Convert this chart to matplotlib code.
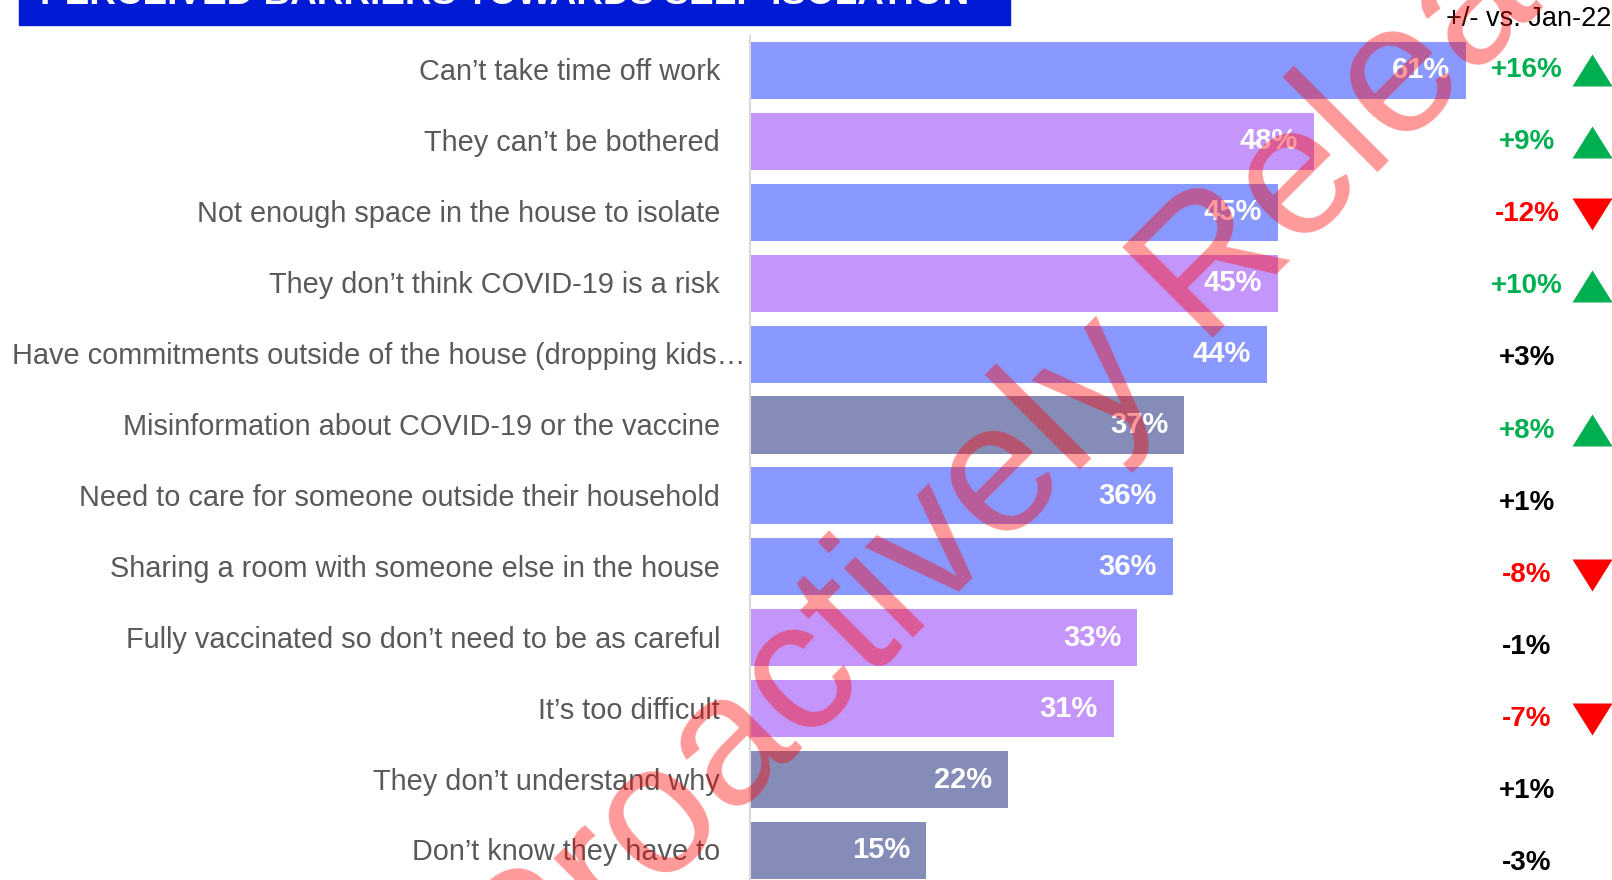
"""Perceived barriers towards self-isolation, with change vs. Jan-22."""
import matplotlib.pyplot as plt
from matplotlib.patches import Rectangle
import numpy as np

plt.rcParams["font.family"] = ["Liberation Sans", "DejaVu Sans"]

BARRIERS = [
    "Can\u2019t take time off work",
    "They can\u2019t be bothered",
    "Not enough space in the house to isolate",
    "They don\u2019t think COVID-19 is a risk",
    "Have commitments outside of the house (dropping kids\u2026",
    "Misinformation about COVID-19 or the vaccine",
    "Need to care for someone outside their household",
    "Sharing a room with someone else in the house",
    "Fully vaccinated so don\u2019t need to be as careful",
    "It\u2019s too difficult",
    "They don\u2019t understand why",
    "Don\u2019t know they have to",
]
SHARE = [61, 48, 45, 45, 44, 37, 36, 36, 33, 31, 22, 15]
CHANGE = [16, 9, -12, 10, 3, 8, 1, -8, -1, -7, 1, -3]
SIGNIFICANT = [True, True, True, True, False, True, False, True, False, True, False, False]
GROUP = ["practical", "attitude", "practical", "attitude", "practical", "knowledge",
         "practical", "practical", "attitude", "attitude", "knowledge", "knowledge"]

TITLE = "PERCEIVED BARRIERS TOWARDS SELF-ISOLATION"
CHANGE_HEADER = "+/- vs. Jan-22"
WATERMARK = "Proactively Released"

GROUP_COLOR = {"practical": "#8A99FF", "attitude": "#C496FC", "knowledge": "#868CB8"}
UP_COLOR = "#00B050"
DOWN_COLOR = "#FF0000"
LABEL_GREY = "#595959"

W, H = 1612, 880


def fx(px):
    return px / W


def fy(py):
    return 1 - py / H


fig = plt.figure(figsize=(W / 100, H / 100), dpi=100)

# title banner, pushed mostly off the top edge
fig.patches.append(Rectangle((fx(18.5), fy(25)), fx(1010 - 18.5), 40 / H,
                             transform=fig.transFigure, color="#001BD3", zorder=1))
fig.text(fx(40), fy(4.5), TITLE, color="white", fontsize=26.6, weight="bold",
         va="baseline", ha="left", zorder=2)

# bars
n = len(SHARE)
rows = np.arange(n)
pitch, first = 70.9, 70.5
ax = fig.add_axes([fx(750), 0, fx(862), (880 - 36) / H])
ax.barh(rows, SHARE, height=0.804, color=[GROUP_COLOR[g] for g in GROUP])
ax.set_ylim((880 - first) / pitch, (36 - first) / pitch)
ax.set_xlim(0, 862 / 11.74)
for side in ("top", "right", "bottom"):
    ax.spines[side].set_visible(False)
ax.spines["left"].set_color("#D9D9D9")
ax.spines["left"].set_linewidth(1.5)
ax.set_xticks([])
ax.set_yticks([])

for i, (label, v) in enumerate(zip(BARRIERS, SHARE)):
    ax.annotate(f"{v}%", xy=(v, i), xytext=(-16, 0), textcoords="offset pixels",
                ha="right", va="center", color="white", weight="bold", fontsize=21)
    gap = -5 if label.endswith("\u2026") else -30
    ax.annotate(label, xy=(0, i), xycoords=ax.get_yaxis_transform(),
                xytext=(gap, -2), textcoords="offset pixels",
                ha="right", va="center", color=LABEL_GREY, fontsize=20.8)

# change column
ax_r = fig.add_axes([fx(1380), 0, fx(232), 1])
ax_r.set_axis_off()
ax_r.set_xlim(0, 232)
ax_r.set_ylim((880 - 70) / 72.1, -70 / 72.1)

up = [(-1, -0.8), (1, -0.8), (0, 0.8), (-1, -0.8)]
down = [(x, -y) for x, y in up]
for i, (c, sig) in enumerate(zip(CHANGE, SIGNIFICANT)):
    if sig:
        color = UP_COLOR if c > 0 else DOWN_COLOR
        ax_r.plot(212, i, marker=up if c > 0 else down, markersize=28.8,
                  color=color, markeredgewidth=0, linestyle="none")
    else:
        color = "black"
    ax_r.text(147, i, f"{c:+d}%", ha="center", va="center", color=color,
              weight="bold", fontsize=20)

fig.text(fx(1611), fy(19), CHANGE_HEADER, ha="right", va="center", fontsize=19.5)

fig.text(fx(527), fy(1023), WATERMARK, rotation=45, rotation_mode="anchor",
         ha="left", va="baseline", fontsize=133, color="red", alpha=0.4, zorder=10)

fig.savefig("out.png", dpi=100)
